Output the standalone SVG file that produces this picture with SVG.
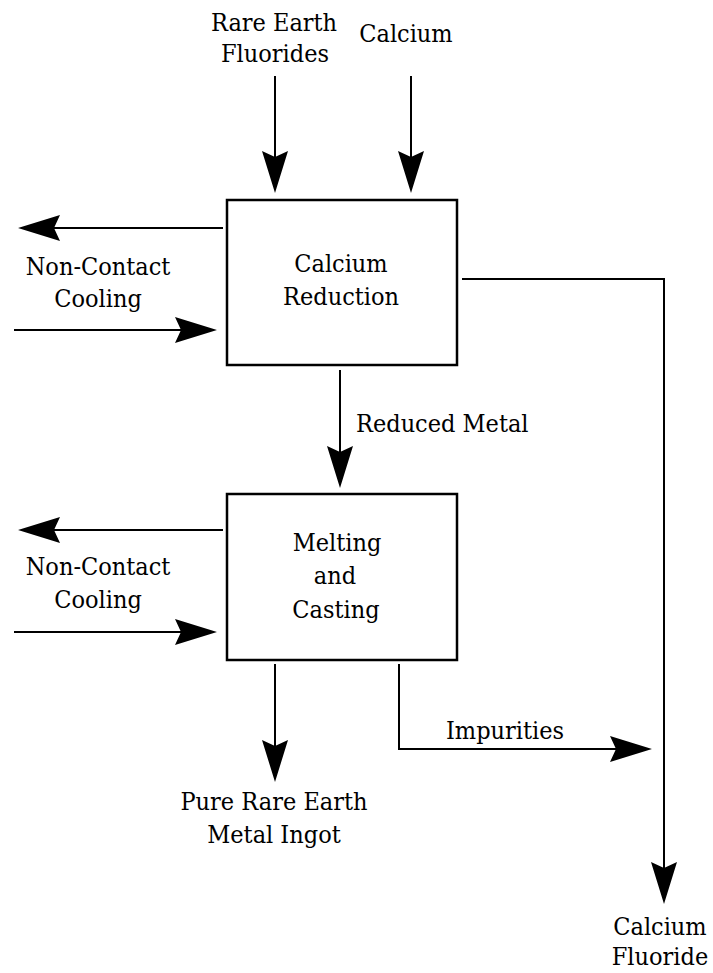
<svg xmlns="http://www.w3.org/2000/svg" width="713" height="973" viewBox="0 0 713 973">
  <style>
    .lbl { font-family: "DejaVu Serif Condensed", "DejaVu Serif", serif; font-stretch: condensed; font-size: 25px; fill: #000; text-anchor: middle; }
    .box { fill: #fff; stroke: #000; stroke-width: 2.5; }
    .flow { fill: none; stroke: #000; stroke-width: 2; marker-end: url(#head); }
  </style>
  <defs>
    <marker id="head" viewBox="-42 -13 42 26" refX="-36" refY="0" markerWidth="42" markerHeight="26" markerUnits="userSpaceOnUse" orient="auto">
      <path d="M0,0 L-42,-13 L-36,0 L-42,13 Z" fill="#000"/>
    </marker>
  </defs>

  <!-- flow lines -->
  <g id="connectors">
    <line class="flow" x1="275" y1="76" x2="275" y2="157"/>
    <line class="flow" x1="411" y1="76" x2="411" y2="157"/>
    <line class="flow" x1="223" y1="228" x2="54" y2="228"/>
    <line class="flow" x1="14" y1="330" x2="181" y2="330"/>
    <line class="flow" x1="340" y1="370" x2="340" y2="452"/>
    <line class="flow" x1="223" y1="530" x2="54" y2="530"/>
    <line class="flow" x1="14" y1="632" x2="181" y2="632"/>
    <line class="flow" x1="275" y1="664" x2="275" y2="746"/>
    <polyline class="flow" points="399,664 399,749 616,749"/>
    <polyline class="flow" points="462,279 664,279 664,868"/>
  </g>

  <g id="calcium-reduction">
    <rect class="box" x="227" y="200" width="230" height="165"/>
    <text class="lbl" x="341" y="272">Calcium</text>
    <text class="lbl" x="341" y="305">Reduction</text>
  </g>

  <g id="melting-casting">
    <rect class="box" x="227" y="494" width="230" height="166"/>
    <text class="lbl" x="337" y="551">Melting</text>
    <text class="lbl" x="335" y="584">and</text>
    <text class="lbl" x="336" y="618">Casting</text>
  </g>

  <g id="labels">
    <text class="lbl" x="274" y="31">Rare Earth</text>
    <text class="lbl" x="275" y="62">Fluorides</text>
    <text class="lbl" x="406" y="42">Calcium</text>
    <text class="lbl" x="98" y="275">Non-Contact</text>
    <text class="lbl" x="98" y="307">Cooling</text>
    <text class="lbl" x="356" y="432" style="text-anchor:start">Reduced Metal</text>
    <text class="lbl" x="98" y="575">Non-Contact</text>
    <text class="lbl" x="98" y="608">Cooling</text>
    <text class="lbl" x="505" y="739">Impurities</text>
    <text class="lbl" x="274" y="810">Pure Rare Earth</text>
    <text class="lbl" x="274" y="843">Metal Ingot</text>
    <text class="lbl" x="660" y="935">Calcium</text>
    <text class="lbl" x="660" y="965">Fluoride</text>
  </g>
</svg>
